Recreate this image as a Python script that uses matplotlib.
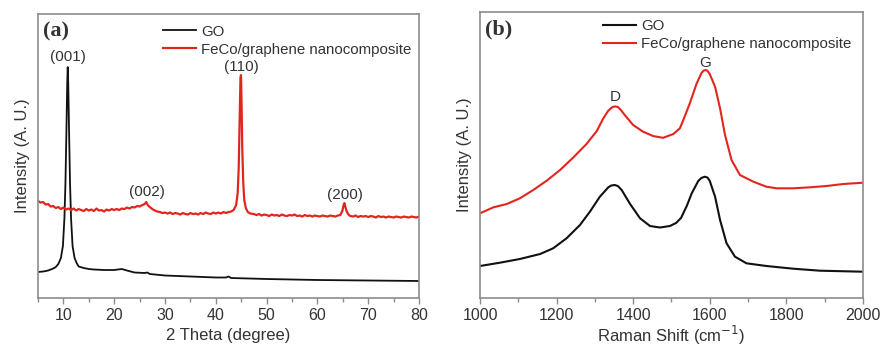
import matplotlib.pyplot as plt
from matplotlib.ticker import MultipleLocator

# XRD data (intensity, arbitrary units)
xrd_go_x = [5, 6, 7, 8, 8.5, 9.0, 9.5, 9.9, 10.2, 10.4, 10.6, 10.75, 10.85, 10.95, 11.1, 11.3,
            11.5, 11.8, 12.2, 12.6, 13.0, 14, 15, 16, 18, 20, 21.5, 22.5, 24, 26, 26.5, 27,
            30, 35, 40, 42, 42.5, 43, 50, 60, 70, 80]
xrd_go_y = [26, 26.5, 27.5, 29.5, 31, 34, 40, 52, 80, 115, 170, 215, 231, 215, 170, 115,
            80, 52, 40, 35, 31.5, 30, 29, 28.5, 28, 28, 29, 27.5, 25.5, 25, 25.5, 24,
            22.5, 21.5, 20.5, 20.5, 21.5, 20, 19, 18, 17.5, 17]

xrd_fe_x = [5.0, 5.5, 6.0, 6.5, 7.0, 7.5, 8.0, 8.5, 9.0, 9.5, 10.0, 10.5, 11.0, 11.5, 12.0,
            12.5, 13.0, 13.5, 14.0, 14.5, 15.0, 15.5, 16.0, 16.5, 17.0, 17.5, 18.0, 18.5,
            19.0, 19.5, 20.0, 20.5, 21.0, 21.5, 22.0, 22.5, 23.0, 23.5, 24.0, 24.5, 25.0,
            25.5, 26.0, 26.3, 26.6, 27.0, 27.5, 28.0, 28.5, 29.0, 29.5, 30.0, 30.5, 31.0,
            31.5, 32.0, 32.5, 33.0, 33.5, 34.0, 34.5, 35.0, 35.5, 36.0, 36.5, 37.0, 37.5,
            38.0, 38.5, 39.0, 39.5, 40.0, 40.5, 41.0, 41.5, 42.0, 42.5, 43.0, 43.5, 44.0,
            44.3, 44.5, 44.7, 44.85, 44.95, 45.05, 45.2, 45.4, 45.6, 45.9, 46.3, 46.8, 47.5,
            48.0, 48.5, 49.0, 49.5, 50.0, 50.5, 51.0, 51.5, 52.0, 52.5, 53.0, 53.5, 54.0,
            54.5, 55.0, 55.5, 56.0, 56.5, 57.0, 57.5, 58.0, 58.5, 59.0, 59.5, 60.0, 60.5,
            61.0, 61.5, 62.0, 62.5, 63.0, 63.5, 64.0, 64.5, 64.9, 65.1, 65.3, 65.5, 65.8,
            66.2, 66.5, 67.0, 67.5, 68.0, 68.5, 69.0, 69.5, 70.0, 70.5, 71.0, 71.5, 72.0,
            72.5, 73.0, 73.5, 74.0, 74.5, 75.0, 75.5, 76.0, 76.5, 77.0, 77.5, 78.0, 78.5,
            79.0, 79.5, 80.0]
xrd_fe_y = [97, 95.5, 96, 93.5, 94, 91.5, 92, 90, 91, 89, 90.5, 88.5, 89.5, 88, 89.5,
            87.5, 89, 88, 87, 89, 87.5, 88.5, 87, 89.5, 87.5, 88, 86.5, 88.5,
            87.5, 89, 88, 89, 88, 89.5, 89, 90.5, 89.5, 91, 90.5, 92, 91.5,
            93, 94, 96, 93, 91, 89, 87.5, 86.5, 86, 85, 85.5, 84.5, 85.5,
            84, 85, 84.5, 83.5, 85, 84, 83.5, 85, 84, 84.5, 83.5, 85, 84,
            85.5, 84.5, 84, 85.5, 84.5, 85.5, 84.5, 86, 85, 86, 86.5, 88, 93,
            105, 130, 180, 220, 223, 200, 150, 115, 98, 90, 86, 84.5, 84,
            83, 84, 82.5, 83.5, 83, 82, 83.5, 82.5, 83, 82, 83.5, 82.5, 82,
            83, 82.5, 83.5, 82, 82.5, 81.5, 83, 82, 82.5, 81.5, 82.5, 82, 81.5,
            82.5, 82, 81.5, 82.5, 82, 81.5, 82.5, 83, 87, 92, 95, 91, 86,
            83, 82, 81.5, 82.5, 81, 82, 81.5, 82, 81, 82, 81.5, 80.5, 82,
            81, 81.5, 80.5, 81.5, 81, 80.5, 81.5, 81, 80.5, 81.5, 81, 80.5, 81.5,
            81, 80.5, 81.5]

xrd_labels = ["(001)", "(002)", "(110)", "(200)"]
xrd_label_x = [10.85, 26.5, 44.96, 65.4]
xrd_label_y = [241, 106, 231, 103]

# Raman data
raman_go_x = [1000, 1052, 1104, 1157, 1191, 1226, 1261, 1287, 1313, 1335, 1343, 1352, 1360,
              1370, 1392, 1418, 1444, 1470, 1496, 1512, 1525, 1540, 1553, 1570, 1578, 1587,
              1594, 1600, 1614, 1627, 1644, 1666, 1696, 1748, 1818, 1888, 2000]
raman_go_y = [32, 35.3, 39, 44, 49.7, 59.7, 73, 86.3, 101.3, 110.7, 112.5, 113, 112,
              108, 94, 79.7, 72, 70.5, 72, 75, 80, 92, 104.7, 117, 120, 121.3,
              120.5, 117.3, 101.3, 78, 54.7, 41.3, 34.7, 32, 29.3, 27.3, 26.3]

raman_fe_x = [1000, 1035, 1070, 1104, 1139, 1174, 1209, 1244, 1278, 1305, 1322, 1335, 1342,
              1348, 1355, 1361, 1368, 1378, 1400, 1426, 1452, 1478, 1505, 1522, 1531, 1548,
              1566, 1579, 1584, 1589, 1594, 1600, 1614, 1627, 1640, 1657, 1679, 1714, 1748,
              1775, 1818, 1862, 1905, 1949, 2000]
raman_fe_y = [84.7, 90.7, 94, 99.7, 108, 117.3, 128, 140.7, 154, 167, 179.7, 187.3, 189.8,
              191.3, 191.6, 190.7, 188, 183, 173, 166.3, 162, 160.2, 164, 169.7, 178, 194.7,
              214.7, 225.3, 227.3, 228, 227.3, 224, 211.3, 189.7, 163, 138, 123, 116.3, 111.3,
              109.7, 109.7, 110.7, 112, 114, 115.3]

raman_labels = ["D", "G"]
raman_label_x = [1353, 1588]
raman_label_y = [201, 235]

plt.rcParams['font.family'] = ['Liberation Sans', 'DejaVu Sans']
TEXT = '#333333'
FRAME = '#8c8c8c'
RED = '#e2261d'
BLACK = '#111111'

fig = plt.figure(figsize=(8.8, 3.5), dpi=100)
ax1 = fig.add_axes([0.0432, 0.1486, 0.433, 0.811])
ax2 = fig.add_axes([0.5455, 0.1486, 0.435, 0.817])


def style_axis(ax):
    for s in ax.spines.values():
        s.set_color(FRAME)
        s.set_linewidth(1.2)
    ax.set_yticks([])
    ax.tick_params(axis='x', which='both', direction='out', colors=FRAME,
                   labelcolor=TEXT, labelsize=11.5, width=1)
    ax.tick_params(axis='x', which='major', length=4, pad=3)
    ax.tick_params(axis='x', which='minor', length=3)
    ax.set_ylabel("Intensity (A. U.)", fontsize=12, color=TEXT, labelpad=6)


def add_legend(ax, x0, y0):
    ax.legend(loc='upper left', bbox_to_anchor=(x0, y0), frameon=False,
              fontsize=10.8, handlelength=2.2, handletextpad=0.33, labelspacing=0.27,
              labelcolor=TEXT, borderaxespad=0.3)


# (a) XRD
ax1.plot(xrd_go_x, xrd_go_y, color=BLACK, lw=1.3, label="GO")
ax1.plot(xrd_fe_x, xrd_fe_y, color=RED, lw=1.6, label="FeCo/graphene nanocomposite")
for t, x, y in zip(xrd_labels, xrd_label_x, xrd_label_y):
    ax1.text(x, y, t, ha='center', va='center', fontsize=11, color=TEXT)
ax1.set_xlim(5, 80)
ax1.set_ylim(0, 284)
ax1.xaxis.set_major_locator(MultipleLocator(10))
ax1.xaxis.set_minor_locator(MultipleLocator(5))
style_axis(ax1)
ax1.set_xlabel("2 Theta (degree)", fontsize=12, color=TEXT, labelpad=4)
ax1.text(0.012, 0.975, "(a)", transform=ax1.transAxes, ha='left', va='top',
         fontsize=16, fontweight='bold', family='Liberation Serif', color=TEXT)
add_legend(ax1, 0.30, 1.0)

# (b) Raman
ax2.plot(raman_go_x, raman_go_y, color=BLACK, lw=1.5, label="GO")
ax2.plot(raman_fe_x, raman_fe_y, color=RED, lw=1.5, label="FeCo/graphene nanocomposite")
for t, x, y in zip(raman_labels, raman_label_x, raman_label_y):
    ax2.text(x, y, t, ha='center', va='center', fontsize=11, color=TEXT)
ax2.set_xlim(1000, 2000)
ax2.set_ylim(0, 286)
ax2.xaxis.set_major_locator(MultipleLocator(200))
ax2.xaxis.set_minor_locator(MultipleLocator(100))
style_axis(ax2)
ax2.set_xlabel("Raman Shift (cm$^{-1}$)", fontsize=12, color=TEXT, labelpad=1)
ax2.text(0.012, 0.975, "(b)", transform=ax2.transAxes, ha='left', va='top',
         fontsize=16, fontweight='bold', family='Liberation Serif', color=TEXT)
add_legend(ax2, 0.295, 1.011)

fig.savefig("out.png", dpi=100)
